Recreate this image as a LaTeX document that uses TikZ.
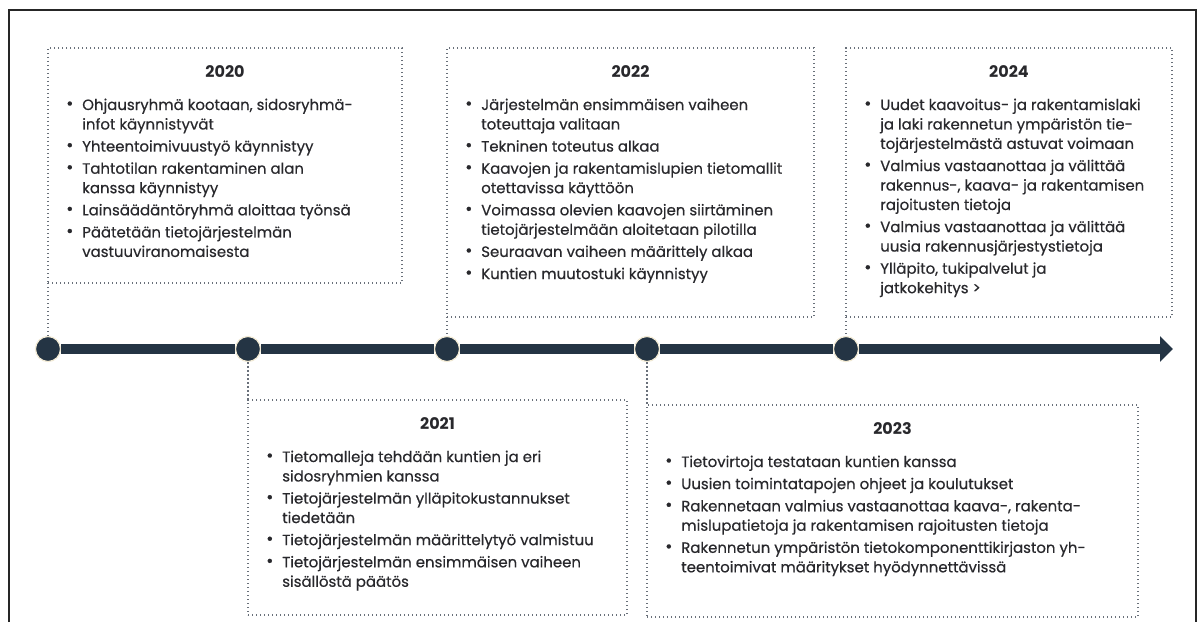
\documentclass[tikz,border=0pt]{standalone}
\usepackage{fontspec}
\setmainfont{Poppins}
\newfontfamily\itemfont{Poppins}[FakeBold=0.5]
\usetikzlibrary{arrows.meta}
\definecolor{navy1}{RGB}{36, 52, 68}
\definecolor{cream1}{RGB}{242, 234, 212}
\definecolor{dots1}{RGB}{105, 112, 122}
\definecolor{text1}{RGB}{40, 40, 44}

\newcommand{\bl}{\raisebox{0.5pt}{\fontsize{13}{13}\selectfont\textbullet}}

\begin{document}
\begin{tikzpicture}[x=0.75pt, y=-0.75pt,
  yearbox/.style={draw=dots1, line width=1.1pt, dash pattern=on 1.1pt off 1.9pt,
    rectangle, inner sep=0pt, outer sep=0pt, anchor=north west},
  yeartitle/.style={font=\fontsize{12}{13}\selectfont\bfseries, text=text1, inner sep=0pt},
  itemlist/.style={font=\itemfont\fontsize{11.2}{14.6}\selectfont, text=text1, inner sep=0pt, anchor=base west},
  dot/.style={circle, fill=navy1, draw=cream1, line width=0.9pt, minimum size=18.75pt, inner sep=0pt},
  bar/.style={navy1, line width=7.5pt},
  link/.style={dots1, line width=1.1pt, dash pattern=on 1.1pt off 1.9pt}]
 \useasboundingbox (0,0) rectangle (1202,622);
 \draw[black!85, line width=2.2pt] (9,622) -- (9,10) -- (1196,10) -- (1196,622);

 % boxes above and below the line
  \node[yearbox, minimum width=265.5pt, minimum height=176.25pt] (b20) at (48,48) {};
  \node[yearbox, minimum width=275.25pt, minimum height=201.75pt] (b22) at (447,48) {};
  \node[yearbox, minimum width=244.5pt, minimum height=201.75pt] (b24) at (846,48) {};
  \node[yearbox, minimum width=284.25pt, minimum height=161.25pt] (b21) at (248,400) {};
  \node[yearbox, minimum width=368.25pt, minimum height=159pt] (b23) at (647,405) {};

 % timeline
  \node[dot] (y20) at (48,349) {};
  \node[dot] (y21) at (248,349) {};
  \node[dot] (y22) at (447,349) {};
  \node[dot] (y23) at (647,349) {};
  \node[dot] (y24) at (846,349) {};
  \coordinate (tip) at (1173,349);

  \foreach \from/\to in {y20/y21, y21/y22, y22/y23, y23/y24}
   \draw[bar] (\from) -- (\to);
  \draw[bar, -{Triangle[length=9.75pt, width=18.75pt]}] (y24) -- (tip);

  \foreach \from/\to in {b20.south west/y20, b22.south west/y22, b24.south west/y24, y21/b21.north west, y23/b23.north west}
   \draw[link] (\from) -- (\to);

  \node[yeartitle] (t20) at (225,72) {2020};
  \node[yeartitle] (t22) at (630.5,72) {2022};
  \node[yeartitle] (t24) at (1009,72) {2024};
  \node[yeartitle] (t21) at (437.5,424) {2021};
  \node[yeartitle] (t23) at (892.5,429) {2023};

  \node[itemlist] (l20) at (66,110) {\begin{tabular}[t]{@{}p{12pt}@{}l@{}}
   \bl & Ohjausryhmä kootaan, sidosryhmä-\\
       & infot käynnistyvät\\[2pt]
   \bl & Yhteentoimivuustyö käynnistyy\\[2pt]
   \bl & Tahtotilan rakentaminen alan\\
       & kanssa käynnistyy\\[2pt]
   \bl & Lainsäädäntöryhmä aloittaa työnsä\\[2pt]
   \bl & Päätetään tietojärjestelmän\\
       & vastuuviranomaisesta
  \end{tabular}};
  \node[itemlist] (l22) at (465,110) {\begin{tabular}[t]{@{}p{12pt}@{}l@{}}
   \bl & Järjestelmän ensimmäisen vaiheen\\
       & toteuttaja valitaan\\[2pt]
   \bl & Tekninen toteutus alkaa\\[2pt]
   \bl & Kaavojen ja rakentamislupien tietomallit\\
       & otettavissa käyttöön\\[2pt]
   \bl & Voimassa olevien kaavojen siirtäminen\\
       & tietojärjestelmään aloitetaan pilotilla\\[2pt]
   \bl & Seuraavan vaiheen määrittely alkaa\\[2pt]
   \bl & Kuntien muutostuki käynnistyy
  \end{tabular}};
  \node[itemlist] (l24) at (864,110) {\begin{tabular}[t]{@{}p{12pt}@{}l@{}}
   \bl & Uudet kaavoitus- ja rakentamislaki\\
       & ja laki rakennetun ympäristön tie-\\
       & tojärjestelmästä astuvat voimaan\\[2pt]
   \bl & Valmius vastaanottaa ja välittää\\
       & rakennus-, kaava- ja rakentamisen\\
       & rajoitusten tietoja\\[2pt]
   \bl & Valmius vastaanottaa ja välittää\\
       & uusia rakennusjärjestystietoja\\[2pt]
   \bl & Ylläpito, tukipalvelut ja\\
       & jatkokehitys >
  \end{tabular}};
  \node[itemlist] (l21) at (266,462) {\begin{tabular}[t]{@{}p{12pt}@{}l@{}}
   \bl & Tietomalleja tehdään kuntien ja eri\\
       & sidosryhmien kanssa\\[2pt]
   \bl & Tietojärjestelmän ylläpitokustannukset\\
       & tiedetään\\[2pt]
   \bl & Tietojärjestelmän määrittelytyö valmistuu\\[2pt]
   \bl & Tietojärjestelmän ensimmäisen vaiheen\\
       & sisällöstä päätös
  \end{tabular}};
  \node[itemlist] (l23) at (665,467) {\begin{tabular}[t]{@{}p{12pt}@{}l@{}}
   \bl & Tietovirtoja testataan kuntien kanssa\\[2pt]
   \bl & Uusien toimintatapojen ohjeet ja koulutukset\\[2pt]
   \bl & Rakennetaan valmius vastaanottaa kaava-, rakenta-\\
       & mislupatietoja ja rakentamisen rajoitusten tietoja\\[2pt]
   \bl & Rakennetun ympäristön tietokomponenttikirjaston yh-\\
       & teentoimivat määritykset hyödynnettävissä
  \end{tabular}};
\end{tikzpicture}
\end{document}
